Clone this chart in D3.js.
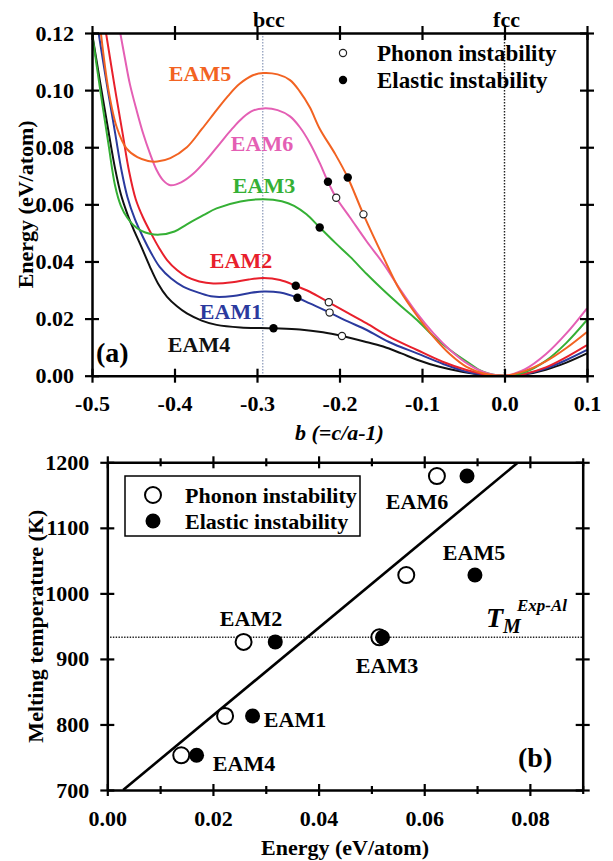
<!DOCTYPE html>
<html><head><meta charset="utf-8">
<script src="https://cdn.jsdelivr.net/npm/d3@7"></script>
<style>
body{margin:0;background:#fff}
text{font-family:"Liberation Serif","Times New Roman",serif;font-weight:bold}
</style>
</head><body>
<svg id="c" width="613" height="861"></svg>
<script>
// ---------- DATA: panel (a) ----------
const curveNames = ["EAM4","EAM1","EAM2","EAM3","EAM6","EAM5"];
const curveColors = ["#111111","#2b3a9e","#e8202c","#35b035","#e45fb4","#f26322"];
const eam4 = [[-0.5,0.12],[-0.49,0.1025],[-0.48,0.0855],[-0.472,0.0725],[-0.465,0.0635],[-0.457,0.0565],[-0.45,0.0515],[-0.44,0.045],[-0.43,0.0383],[-0.42,0.0323],[-0.409,0.0276],[-0.397,0.0243],[-0.385,0.0218],[-0.367,0.0193],[-0.349,0.0178],[-0.32,0.0169],[-0.28,0.0166],[-0.248,0.0162],[-0.22,0.0152],[-0.197,0.0139],[-0.17,0.012],[-0.147,0.0102],[-0.125,0.0078],[-0.106,0.0056],[-0.08,0.0032],[-0.05,0.0013],[-0.025,0.0003],[0,0],[0.025,0.0005],[0.05,0.0021],[0.075,0.0046],[0.1,0.0078]];
const eam1 = [[-0.492,0.12],[-0.482,0.102],[-0.472,0.085],[-0.464,0.0715],[-0.457,0.0625],[-0.448,0.0548],[-0.438,0.0484],[-0.428,0.0428],[-0.418,0.0381],[-0.404,0.034],[-0.389,0.0311],[-0.37,0.029],[-0.353,0.0277],[-0.329,0.0279],[-0.31,0.0289],[-0.292,0.0295],[-0.272,0.0291],[-0.251,0.0273],[-0.236,0.0253],[-0.212,0.0221],[-0.19,0.019],[-0.167,0.016],[-0.14,0.0118],[-0.106,0.0078],[-0.075,0.0042],[-0.046,0.0014],[-0.022,0.0003],[0,0],[0.025,0.0006],[0.05,0.0025],[0.075,0.0055],[0.1,0.009]];
const eam2 = [[-0.483,0.12],[-0.473,0.102],[-0.463,0.085],[-0.455,0.0715],[-0.447,0.0618],[-0.438,0.0553],[-0.428,0.0496],[-0.419,0.0449],[-0.409,0.0405],[-0.397,0.037],[-0.385,0.0346],[-0.37,0.033],[-0.353,0.0323],[-0.33,0.0327],[-0.31,0.0337],[-0.292,0.0342],[-0.272,0.0335],[-0.253,0.0315],[-0.236,0.0294],[-0.213,0.0257],[-0.19,0.022],[-0.167,0.0183],[-0.14,0.0137],[-0.106,0.009],[-0.075,0.0049],[-0.046,0.002],[-0.022,0.0004],[0,0],[0.025,0.0007],[0.05,0.0029],[0.075,0.0065],[0.1,0.0107]];
const eam3 = [[-0.5,0.12],[-0.49,0.1],[-0.48,0.081],[-0.472,0.0665],[-0.465,0.0595],[-0.457,0.0552],[-0.45,0.0528],[-0.44,0.0507],[-0.43,0.0497],[-0.418,0.0494],[-0.4,0.0505],[-0.385,0.053],[-0.365,0.0562],[-0.349,0.0586],[-0.32,0.061],[-0.292,0.0618],[-0.27,0.0611],[-0.255,0.0595],[-0.24,0.0565],[-0.224,0.0519],[-0.205,0.0465],[-0.187,0.0416],[-0.167,0.0356],[-0.147,0.030],[-0.126,0.0245],[-0.106,0.0195],[-0.086,0.0138],[-0.066,0.009],[-0.045,0.0048],[-0.026,0.0014],[0,0],[0.025,0.0013],[0.05,0.0052],[0.075,0.0115],[0.1,0.0195]];
const eam6 = [[-0.467,0.122],[-0.46,0.111],[-0.454,0.102],[-0.446,0.093],[-0.438,0.0848],[-0.43,0.078],[-0.422,0.0722],[-0.414,0.0685],[-0.405,0.0667],[-0.392,0.0677],[-0.377,0.0708],[-0.36,0.076],[-0.345,0.0813],[-0.33,0.0865],[-0.317,0.0904],[-0.305,0.0928],[-0.292,0.0936],[-0.275,0.093],[-0.26,0.0908],[-0.248,0.087],[-0.236,0.0815],[-0.224,0.0745],[-0.214,0.0679],[-0.204,0.0623],[-0.187,0.0553],[-0.167,0.047],[-0.147,0.0393],[-0.126,0.030],[-0.106,0.0218],[-0.086,0.0148],[-0.066,0.009],[-0.045,0.0042],[-0.025,0.0012],[0,0],[0.025,0.0023],[0.05,0.0075],[0.075,0.0148],[0.1,0.0236]];
const eam5 = [[-0.49,0.122],[-0.48,0.1],[-0.47,0.087],[-0.458,0.0795],[-0.445,0.0765],[-0.432,0.0752],[-0.421,0.075],[-0.405,0.0762],[-0.385,0.080],[-0.367,0.0863],[-0.349,0.093],[-0.335,0.098],[-0.321,0.1022],[-0.305,0.1052],[-0.292,0.106],[-0.275,0.1055],[-0.26,0.1035],[-0.248,0.0995],[-0.236,0.094],[-0.224,0.0865],[-0.205,0.0775],[-0.19,0.0694],[-0.171,0.0565],[-0.147,0.0416],[-0.127,0.030],[-0.106,0.021],[-0.086,0.0136],[-0.066,0.0075],[-0.046,0.0031],[-0.025,0.0008],[0,0],[0.025,0.0017],[0.05,0.005],[0.075,0.0097],[0.1,0.0153]];
const curves = [eam4, eam1, eam2, eam3, eam6, eam5];
// instability points on the curves (b, E)
const phononA = [[-0.197,0.0139],[-0.212,0.0221],[-0.213,0.0257],[-0.204,0.0623],[-0.171,0.0565]];
const elasticA = [[-0.280,0.0166],[-0.251,0.0273],[-0.253,0.0315],[-0.224,0.0519],[-0.214,0.0679],[-0.190,0.0694]];
const bccB = -0.293, fccB = 0.0;
const xTicksA = [-0.5,-0.4,-0.3,-0.2,-0.1,0.0,0.1];
const yTicksA = [0,0.02,0.04,0.06,0.08,0.10,0.12];

// ---------- DATA: panel (b) ----------
const eamNamesB = ["EAM4","EAM1","EAM2","EAM3","EAM5","EAM6"];
const phononE = [0.0140,0.0223,0.0258,0.0515,0.0566,0.0624];
const elasticE = [0.0169,0.0275,0.0318,0.0521,0.0696,0.0681];
const meltT   = [753,813,926,933,1028,1179];
const fitLine = [[0.003,700],[0.0778,1200]];
const tmExpAl = 933;
const xTicksB = [0,0.01,0.02,0.03,0.04,0.05,0.06,0.07,0.08,0.09];
const xLabelsB = [0,0.02,0.04,0.06,0.08];
const yTicksB = [700,800,900,1000,1100,1200];

// ---------- DRAW ----------
const svg = d3.select("#c");
const FS = 22;
const SERIF = '"Liberation Serif","Times New Roman",serif';

// Panel (a)
const xa = d3.scaleLinear([-0.5,0.1],[92,587]);
const ya = d3.scaleLinear([0,0.12],[375.7,33]);
const ga = svg.append("g");
ga.append("clipPath").attr("id","clipA").append("rect")
  .attr("x",xa(-0.5)).attr("y",ya(0.12)).attr("width",xa(0.1)-xa(-0.5)).attr("height",ya(0)-ya(0.12));

ga.append("line").attr("x1",xa(bccB)).attr("x2",xa(bccB)).attr("y1",ya(0.12)).attr("y2",ya(0))
  .attr("stroke","#8a98b8").attr("stroke-width",1.2).attr("stroke-dasharray","1.5,1.5");
ga.append("line").attr("x1",xa(fccB)).attr("x2",xa(fccB)).attr("y1",ya(0.12)).attr("y2",ya(0))
  .attr("stroke","#222").attr("stroke-width",1.4).attr("stroke-dasharray","1.5,1.5");

const line = d3.line().x(d=>xa(d[0])).y(d=>ya(d[1])).curve(d3.curveCatmullRom.alpha(0.5));
ga.append("g").attr("clip-path","url(#clipA)").selectAll("path").data(curves).join("path")
  .attr("d",line).attr("fill","none").attr("stroke",(d,i)=>curveColors[i]).attr("stroke-width",2);

function crossTicks(g, len, horizontal){
  g.selectAll(".tick line").attr(horizontal?"y1":"x1", len).attr(horizontal?"y2":"x2", -len)
   .attr("stroke","#000").attr("stroke-width",2.2);
  g.select(".domain").attr("stroke","#000").attr("stroke-width",2.5);
}
const axA_b = ga.append("g").attr("transform",`translate(0,${ya(0)})`)
  .call(d3.axisBottom(xa).tickValues(xTicksA).tickSizeOuter(0).tickPadding(14).tickFormat(d3.format(".1f")));
crossTicks(axA_b,7,true);
const axA_t = ga.append("g").attr("transform",`translate(0,${ya(0.12)})`)
  .call(d3.axisTop(xa).tickValues(xTicksA).tickSizeOuter(0).tickFormat(""));
crossTicks(axA_t,7,true);
const axA_l = ga.append("g").attr("transform",`translate(${xa(-0.5)},0)`)
  .call(d3.axisLeft(ya).tickValues(yTicksA).tickSizeOuter(0).tickPadding(12).tickFormat(d3.format(".2f")));
crossTicks(axA_l,7,false);
const axA_r = ga.append("g").attr("transform",`translate(${xa(0.1)},0)`)
  .call(d3.axisRight(ya).tickValues(yTicksA).tickSizeOuter(0).tickFormat(""));
crossTicks(axA_r,7,false);
[axA_b,axA_l].forEach(a=>a.selectAll(".tick text").attr("font-size",FS).attr("fill","#000")
  .attr("font-family",SERIF).attr("font-weight","bold"));
axA_b.selectAll(".tick text").text(d=>d3.format(".1f")(d).replace("−","-"));

ga.selectAll(".pa").data(phononA).join("circle").attr("cx",d=>xa(d[0])).attr("cy",d=>ya(d[1]))
  .attr("r",3.6).attr("fill","#fff").attr("stroke","#222").attr("stroke-width",1.2);
ga.selectAll(".ea").data(elasticA).join("circle").attr("cx",d=>xa(d[0])).attr("cy",d=>ya(d[1]))
  .attr("r",4.2).attr("fill","#000");

const labPosA = [[199,344],[231,311],[241,260],[264,185],[262,143],[200,73]];
ga.selectAll(".la").data(curveNames).join("text").attr("x",(d,i)=>labPosA[i][0]).attr("y",(d,i)=>labPosA[i][1])
  .attr("text-anchor","middle").attr("dominant-baseline","central").attr("font-size",FS)
  .attr("fill",(d,i)=>curveColors[i]).text(d=>d);

ga.append("circle").attr("cx",343).attr("cy",53).attr("r",3.6).attr("fill","#fff").attr("stroke","#222").attr("stroke-width",1.2);
ga.append("circle").attr("cx",343).attr("cy",80).attr("r",4.2).attr("fill","#000");
ga.append("text").attr("x",377).attr("y",53).attr("dominant-baseline","central").attr("font-size",FS+1).text("Phonon instability");
ga.append("text").attr("x",377).attr("y",80).attr("dominant-baseline","central").attr("font-size",FS+1).text("Elastic instability");

ga.append("text").attr("x",xa(bccB)+6).attr("y",19).attr("text-anchor","middle").attr("dominant-baseline","central").attr("font-size",FS).text("bcc");
ga.append("text").attr("x",xa(fccB)+2).attr("y",19).attr("text-anchor","middle").attr("dominant-baseline","central").attr("font-size",FS).text("fcc");
ga.append("text").attr("x",96).attr("y",352).attr("dominant-baseline","central").attr("font-size",28).text("(a)");
ga.append("text").attr("transform",`translate(25,${(ya(0)+ya(0.12))/2}) rotate(-90)`).attr("text-anchor","middle")
  .attr("dominant-baseline","central").attr("font-size",FS).text("Energy (eV/atom)");
ga.append("text").attr("x",(xa(-0.5)+xa(0.1))/2).attr("y",432).attr("text-anchor","middle").attr("dominant-baseline","central")
  .attr("font-size",FS).attr("font-style","italic").text("b (=c/a-1)");

// Panel (b)
const xb = d3.scaleLinear([0,0.09],[107.3,582.7]);
const yb = d3.scaleLinear([700,1200],[790,462.3]);
const gb = svg.append("g");
gb.append("clipPath").attr("id","clipB").append("rect")
  .attr("x",xb(0)).attr("y",yb(1200)).attr("width",xb(0.09)-xb(0)).attr("height",yb(700)-yb(1200));

gb.append("line").attr("x1",xb(0)).attr("x2",xb(0.09)).attr("y1",yb(tmExpAl)).attr("y2",yb(tmExpAl))
  .attr("stroke","#222").attr("stroke-width",1.6).attr("stroke-dasharray","1.4,1.4");
gb.append("path").attr("clip-path","url(#clipB)").datum(fitLine)
  .attr("d",d3.line().x(d=>xb(d[0])).y(d=>yb(d[1]))).attr("stroke","#000").attr("stroke-width",2.6).attr("fill","none");

const isMajor = d=>xLabelsB.some(v=>Math.abs(v-d)<1e-9);
const axB_b = gb.append("g").attr("transform",`translate(0,${yb(700)})`)
  .call(d3.axisBottom(xb).tickValues(xTicksB).tickSizeOuter(0).tickPadding(14).tickFormat(d=>isMajor(d)?d3.format(".2f")(d):""));
crossTicks(axB_b,6,true);
const axB_t = gb.append("g").attr("transform",`translate(0,${yb(1200)})`)
  .call(d3.axisTop(xb).tickValues(xTicksB).tickSizeOuter(0).tickFormat(""));
crossTicks(axB_t,6,true);
[axB_b,axB_t].forEach(a=>a.selectAll(".tick line").filter(d=>!isMajor(d)).attr("y1",4).attr("y2",-4));
const axB_l = gb.append("g").attr("transform",`translate(${xb(0)},0)`)
  .call(d3.axisLeft(yb).tickValues(yTicksB).tickSizeOuter(0).tickPadding(12).tickFormat(d3.format("d")));
crossTicks(axB_l,7,false);
const axB_r = gb.append("g").attr("transform",`translate(${xb(0.09)},0)`)
  .call(d3.axisRight(yb).tickValues(yTicksB).tickSizeOuter(0).tickFormat(""));
crossTicks(axB_r,7,false);
[axB_b,axB_l].forEach(a=>a.selectAll(".tick text").attr("font-size",FS).attr("fill","#000")
  .attr("font-family",SERIF).attr("font-weight","bold"));

gb.selectAll(".pb").data(phononE).join("circle").attr("cx",d=>xb(d)).attr("cy",(d,i)=>yb(meltT[i]))
  .attr("r",8).attr("fill","#fff").attr("stroke","#000").attr("stroke-width",2);
gb.selectAll(".eb").data(elasticE).join("circle").attr("cx",d=>xb(d)).attr("cy",(d,i)=>yb(meltT[i]))
  .attr("r",7.5).attr("fill","#000");

const labPosB = [[244,763],[295,719],[251,618],[387,665],[474,552],[417,501]];
gb.selectAll(".lb").data(eamNamesB).join("text").attr("x",(d,i)=>labPosB[i][0]).attr("y",(d,i)=>labPosB[i][1])
  .attr("text-anchor","middle").attr("dominant-baseline","central").attr("font-size",FS).text(d=>d);

gb.append("rect").attr("x",125).attr("y",476).attr("width",235).attr("height",60).attr("fill","#fff").attr("stroke","#000").attr("stroke-width",1.5);
gb.append("circle").attr("cx",153).attr("cy",495).attr("r",8).attr("fill","#fff").attr("stroke","#000").attr("stroke-width",2);
gb.append("circle").attr("cx",153).attr("cy",521).attr("r",7.5).attr("fill","#000");
gb.append("text").attr("x",185).attr("y",495).attr("dominant-baseline","central").attr("font-size",FS).text("Phonon instability");
gb.append("text").attr("x",185).attr("y",521).attr("dominant-baseline","central").attr("font-size",FS).text("Elastic instability");

const tm = gb.append("text").attr("x",486).attr("y",627).attr("font-size",28).attr("font-style","italic");
tm.append("tspan").text("T");
tm.append("tspan").attr("font-size",20).attr("dy",6).text("M");
gb.append("text").attr("x",517).attr("y",611).attr("font-size",17).attr("font-style","italic").text("Exp-Al");

gb.append("text").attr("x",518).attr("y",757).attr("dominant-baseline","central").attr("font-size",28).text("(b)");
gb.append("text").attr("transform",`translate(35,${(yb(700)+yb(1200))/2}) rotate(-90)`).attr("text-anchor","middle")
  .attr("dominant-baseline","central").attr("font-size",FS).text("Melting temperature (K)");
gb.append("text").attr("x",(xb(0)+xb(0.09))/2).attr("y",847).attr("text-anchor","middle").attr("dominant-baseline","central")
  .attr("font-size",FS).text("Energy (eV/atom)");
</script>
</body></html>
